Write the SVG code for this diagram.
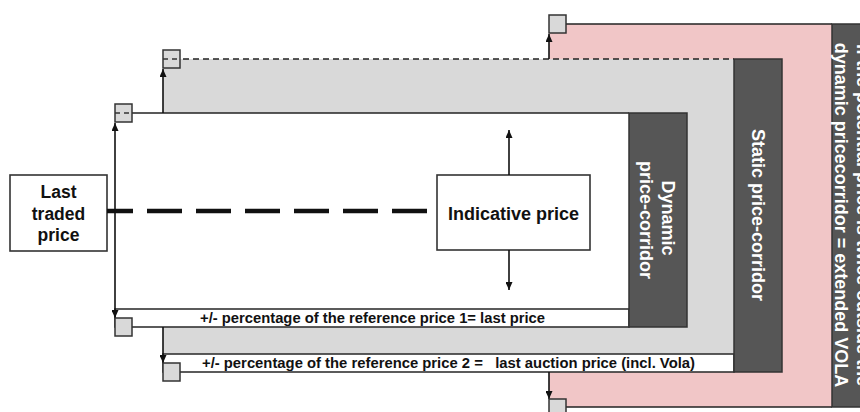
<svg xmlns="http://www.w3.org/2000/svg" width="860" height="412" viewBox="0 0 860 412">
<defs>
<marker id="arr" viewBox="0 0 8 7" refX="8" refY="3.5" markerWidth="8" markerHeight="7" markerUnits="userSpaceOnUse" orient="auto-start-reverse">
<path d="M0,0 L8,3.5 L0,7 z" fill="#111"/>
</marker>
<style>
.ln{stroke:#222;stroke-width:1.6;fill:none}
.dash{stroke:#222;stroke-width:1.4;fill:none;stroke-dasharray:6 4}
.sq{fill:#d9d9d9;stroke:#333;stroke-width:1.5}
.box{fill:#fff;stroke:#333;stroke-width:1.6}
.dark{fill:#565656;stroke:#333;stroke-width:1.5}
.t{font-family:"Liberation Sans",Arial,sans-serif;font-weight:bold;fill:#111}
.w{font-family:"Liberation Sans",Arial,sans-serif;font-weight:bold;fill:#fff;font-size:18px}
.arr{stroke:#111;stroke-width:1.6;fill:none;marker-end:url(#arr)}
</style>
</defs>
<rect width="860" height="412" fill="#fff"/>

<g id="region-extended">
<rect x="549" y="24" width="283" height="383" fill="#f1c6c7"/>
<line class="ln" x1="549" y1="24" x2="832" y2="24"/>
<line class="ln" x1="549" y1="407" x2="832" y2="407"/>
</g>
<g id="node-extended">
<rect class="dark" x="832" y="24" width="32" height="383"/>
<text class="w" text-anchor="middle" transform="translate(857,215) rotate(90)">If the potential price is twice outside the</text>
<text class="w" text-anchor="middle" transform="translate(835,215) rotate(90)">dynamic pricecorridor = extended VOLA</text>
</g>

<g id="region-static">
<rect x="163" y="59" width="571" height="313" fill="#d9d9d9"/>
<line class="dash" x1="163" y1="59" x2="734" y2="59"/>
</g>

<g id="region-dynamic">
<rect x="115" y="113" width="514" height="196" fill="#fff"/>
<line class="ln" x1="115" y1="113" x2="629" y2="113"/>
</g>

<g id="label-1">
<rect class="box" x="115" y="309" width="514" height="18"/>
<text class="t" x="372.5" y="323" font-size="14.5" text-anchor="middle" textLength="345" lengthAdjust="spacingAndGlyphs">+/- percentage of the reference price 1= last price</text>
</g>
<g id="label-2">
<rect class="box" x="163" y="354" width="571" height="18"/>
<text class="t" x="448.5" y="368" font-size="14.5" text-anchor="middle" xml:space="preserve" style="white-space:pre" textLength="493" lengthAdjust="spacingAndGlyphs">+/- percentage of the reference price 2 =   last auction price (incl. Vola)</text>
</g>

<g id="node-dynamic">
<rect class="dark" x="629" y="113" width="58" height="214"/>
<text class="w" text-anchor="middle" transform="translate(662,218) rotate(90)">Dynamic</text>
<text class="w" text-anchor="middle" transform="translate(640,220) rotate(90)">price-corridor</text>
</g>
<g id="node-static">
<rect class="dark" x="734" y="59" width="48" height="313"/>
<text class="w" text-anchor="middle" transform="translate(752,215) rotate(90)">Static price-corridor</text>
</g>

<g id="node-last-traded">
<rect class="box" x="10" y="175" width="97" height="76"/>
<text class="t" font-size="17.5" text-anchor="middle" x="58.5" y="198">Last</text>
<text class="t" font-size="17.5" text-anchor="middle" x="58.5" y="220">traded</text>
<text class="t" font-size="17.5" text-anchor="middle" x="58.5" y="241">price</text>
</g>
<g id="node-indicative">
<rect class="box" x="437" y="175" width="153" height="75"/>
<text class="t" font-size="18" text-anchor="middle" x="513.5" y="220">Indicative price</text>
</g>

<g id="connectors">
<line x1="107" y1="211" x2="428" y2="211" stroke="#111" stroke-width="4.5" stroke-dasharray="35 14" stroke-dashoffset="9"/>
<line x1="115" y1="210" x2="115" y2="123" class="arr"/>
<line x1="115" y1="210" x2="115" y2="318" class="arr"/>
<line x1="163" y1="113" x2="163" y2="69" class="arr"/>
<line x1="163" y1="327" x2="163" y2="363" class="arr"/>
<line x1="549" y1="59" x2="549" y2="34" class="arr"/>
<line x1="549" y1="372" x2="549" y2="399" class="arr"/>
<line x1="509" y1="175" x2="509" y2="130" class="arr"/>
<line x1="509" y1="250" x2="509" y2="290" class="arr"/>
</g>

<g id="markers">
<rect class="sq" x="115" y="104" width="17" height="18"/>
<line x1="115" y1="113" x2="132" y2="113" stroke="#333" stroke-width="1.4" stroke-dasharray="5 4"/>
<rect class="sq" x="163" y="50" width="17" height="18"/>
<line x1="163" y1="59" x2="180" y2="59" stroke="#333" stroke-width="1.4" stroke-dasharray="5 4"/>
<rect class="sq" x="549" y="15" width="17" height="18"/>
<rect class="sq" x="115" y="318" width="17" height="18"/>
<rect class="sq" x="163" y="363" width="17" height="18"/>
<rect class="sq" x="549" y="399" width="17" height="18"/>
</g>
</svg>
